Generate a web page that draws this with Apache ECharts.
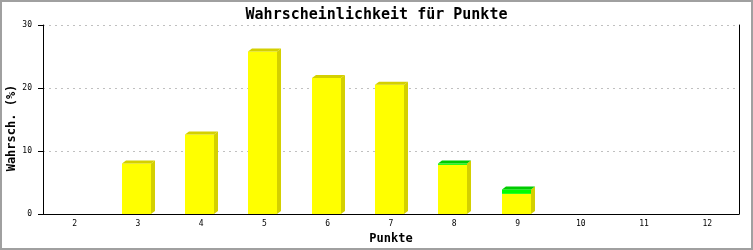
<!DOCTYPE html>
<html>
<head>
<meta charset="utf-8">
<script src="https://cdn.jsdelivr.net/npm/echarts@6/dist/echarts.min.js"></script>
<style>
html,body{margin:0;padding:0;background:#fff;}
#chart{width:753px;height:250px;}
</style>
</head>
<body>
<div id="chart"></div>
<script>
// Data
var categories = ['2','3','4','5','6','7','8','9','10','11','12'];
var yellowValues = [0, 8.0, 12.6, 25.8, 21.6, 20.5, 7.8, 3.2, 0, 0, 0];
var greenValues  = [0, 0, 0, 0, 0, 0, 0.2, 0.7, 0, 0, 0];
var yTicks = [0, 10, 20, 30];

var titleText = 'Wahrscheinlichkeit für Punkte';
var xName = 'Punkte';
var yName = 'Wahrsch. (%)';

var mono = "'DejaVu Sans Mono', monospace";

var seriesData = categories.map(function (c, i) {
  return [i, yellowValues[i], greenValues[i]];
});

var DX = 4, DY = 3;
var FRONT_YEL = '#FFFF00', DARK_YEL = '#D4D000';
var FRONT_GRN = '#00FF00', DARK_GRN = '#00CC00';

function renderItem(params, api) {
  var idx = api.value(0);
  var yv = api.value(1);
  var gv = api.value(2);
  var total = yv + gv;
  if (total <= 0) return null;
  var band = api.size([1, 0])[0];
  var w = band * 0.458;
  var base = api.coord([idx, 0]);
  var cx = base[0] - 1.5;
  var xl = Math.round(cx - w / 2);
  var xr = Math.round(xl + w);
  var yb = base[1];
  var yMid = api.coord([idx, yv])[1];
  var yTop = api.coord([idx, total])[1];
  var children = [];
  // side face (dark yellow)
  children.push({
    type: 'polygon',
    shape: { points: [[xr, yTop], [xr + DX, yTop - DY], [xr + DX, yb - DY], [xr, yb]] },
    style: { fill: DARK_YEL }
  });
  // front yellow
  if (yv > 0) {
    children.push({
      type: 'rect',
      shape: { x: xl, y: yMid, width: xr - xl, height: yb - yMid },
      style: { fill: FRONT_YEL }
    });
  }
  // front green
  if (gv > 0) {
    children.push({
      type: 'rect',
      shape: { x: xl, y: yTop, width: xr - xl, height: yMid - yTop },
      style: { fill: FRONT_GRN }
    });
  }
  // top face
  children.push({
    type: 'polygon',
    shape: { points: [[xl, yTop], [xl + DX, yTop - DY], [xr + DX, yTop - DY], [xr, yTop]] },
    style: { fill: gv > 0 ? DARK_GRN : DARK_YEL }
  });
  return { type: 'group', children: children };
}

var chart = echarts.init(document.getElementById('chart'), null, { renderer: 'canvas' });
chart.setOption({
  animation: false,
  backgroundColor: '#ffffff',
  title: {
    text: titleText,
    left: 'center',
    top: 3,
    textStyle: { fontFamily: mono, fontWeight: 'bold', fontSize: 15, color: '#000' }
  },
  grid: { left: 43, right: 14, top: 25, bottom: 36, containLabel: false },
  xAxis: {
    type: 'category',
    data: categories,
    boundaryGap: true,
    axisLine: { lineStyle: { color: '#000', width: 1 } },
    axisTick: { show: false },
    axisLabel: { fontFamily: mono, fontSize: 8, color: '#000', margin: 6 },
    splitLine: { show: false }
  },
  yAxis: [{
    type: 'value',
    min: yTicks[0],
    max: yTicks[yTicks.length - 1],
    interval: 10,
    axisLine: { show: true, lineStyle: { color: '#000', width: 1 } },
    axisTick: { show: true, length: 5, lineStyle: { color: '#000' } },
    axisLabel: { fontFamily: mono, fontSize: 8, color: '#000', margin: 11 },
    splitLine: { show: true, lineStyle: { color: '#C0C0C0', type: [2, 4], width: 1 } }
  }, {
    type: 'value',
    position: 'right',
    min: yTicks[0],
    max: yTicks[yTicks.length - 1],
    interval: 10,
    axisLine: { show: true, lineStyle: { color: '#000', width: 1 } },
    axisTick: { show: false },
    axisLabel: { show: false },
    splitLine: { show: false }
  }],
  graphic: [
    {
      type: 'rect',
      shape: { x: 1, y: 1, width: 751, height: 248 },
      style: { fill: 'none', stroke: '#A0A0A0', lineWidth: 2 },
      silent: true
    },
    {
      type: 'text',
      x: 391, y: 239,
      style: { text: xName, fontFamily: mono, fontWeight: 'bold', fontSize: 12, fill: '#000', align: 'center', verticalAlign: 'middle' }
    },
    {
      type: 'text',
      x: 12, y: 128,
      rotation: Math.PI / 2,
      style: { text: yName, fontFamily: mono, fontWeight: 'bold', fontSize: 12, fill: '#000', align: 'center', verticalAlign: 'middle' }
    }
  ],
  series: [{
    type: 'custom',
    renderItem: renderItem,
    encode: { x: 0, y: [1, 2] },
    data: seriesData,
    clip: false
  }]
});
</script>
</body>
</html>
